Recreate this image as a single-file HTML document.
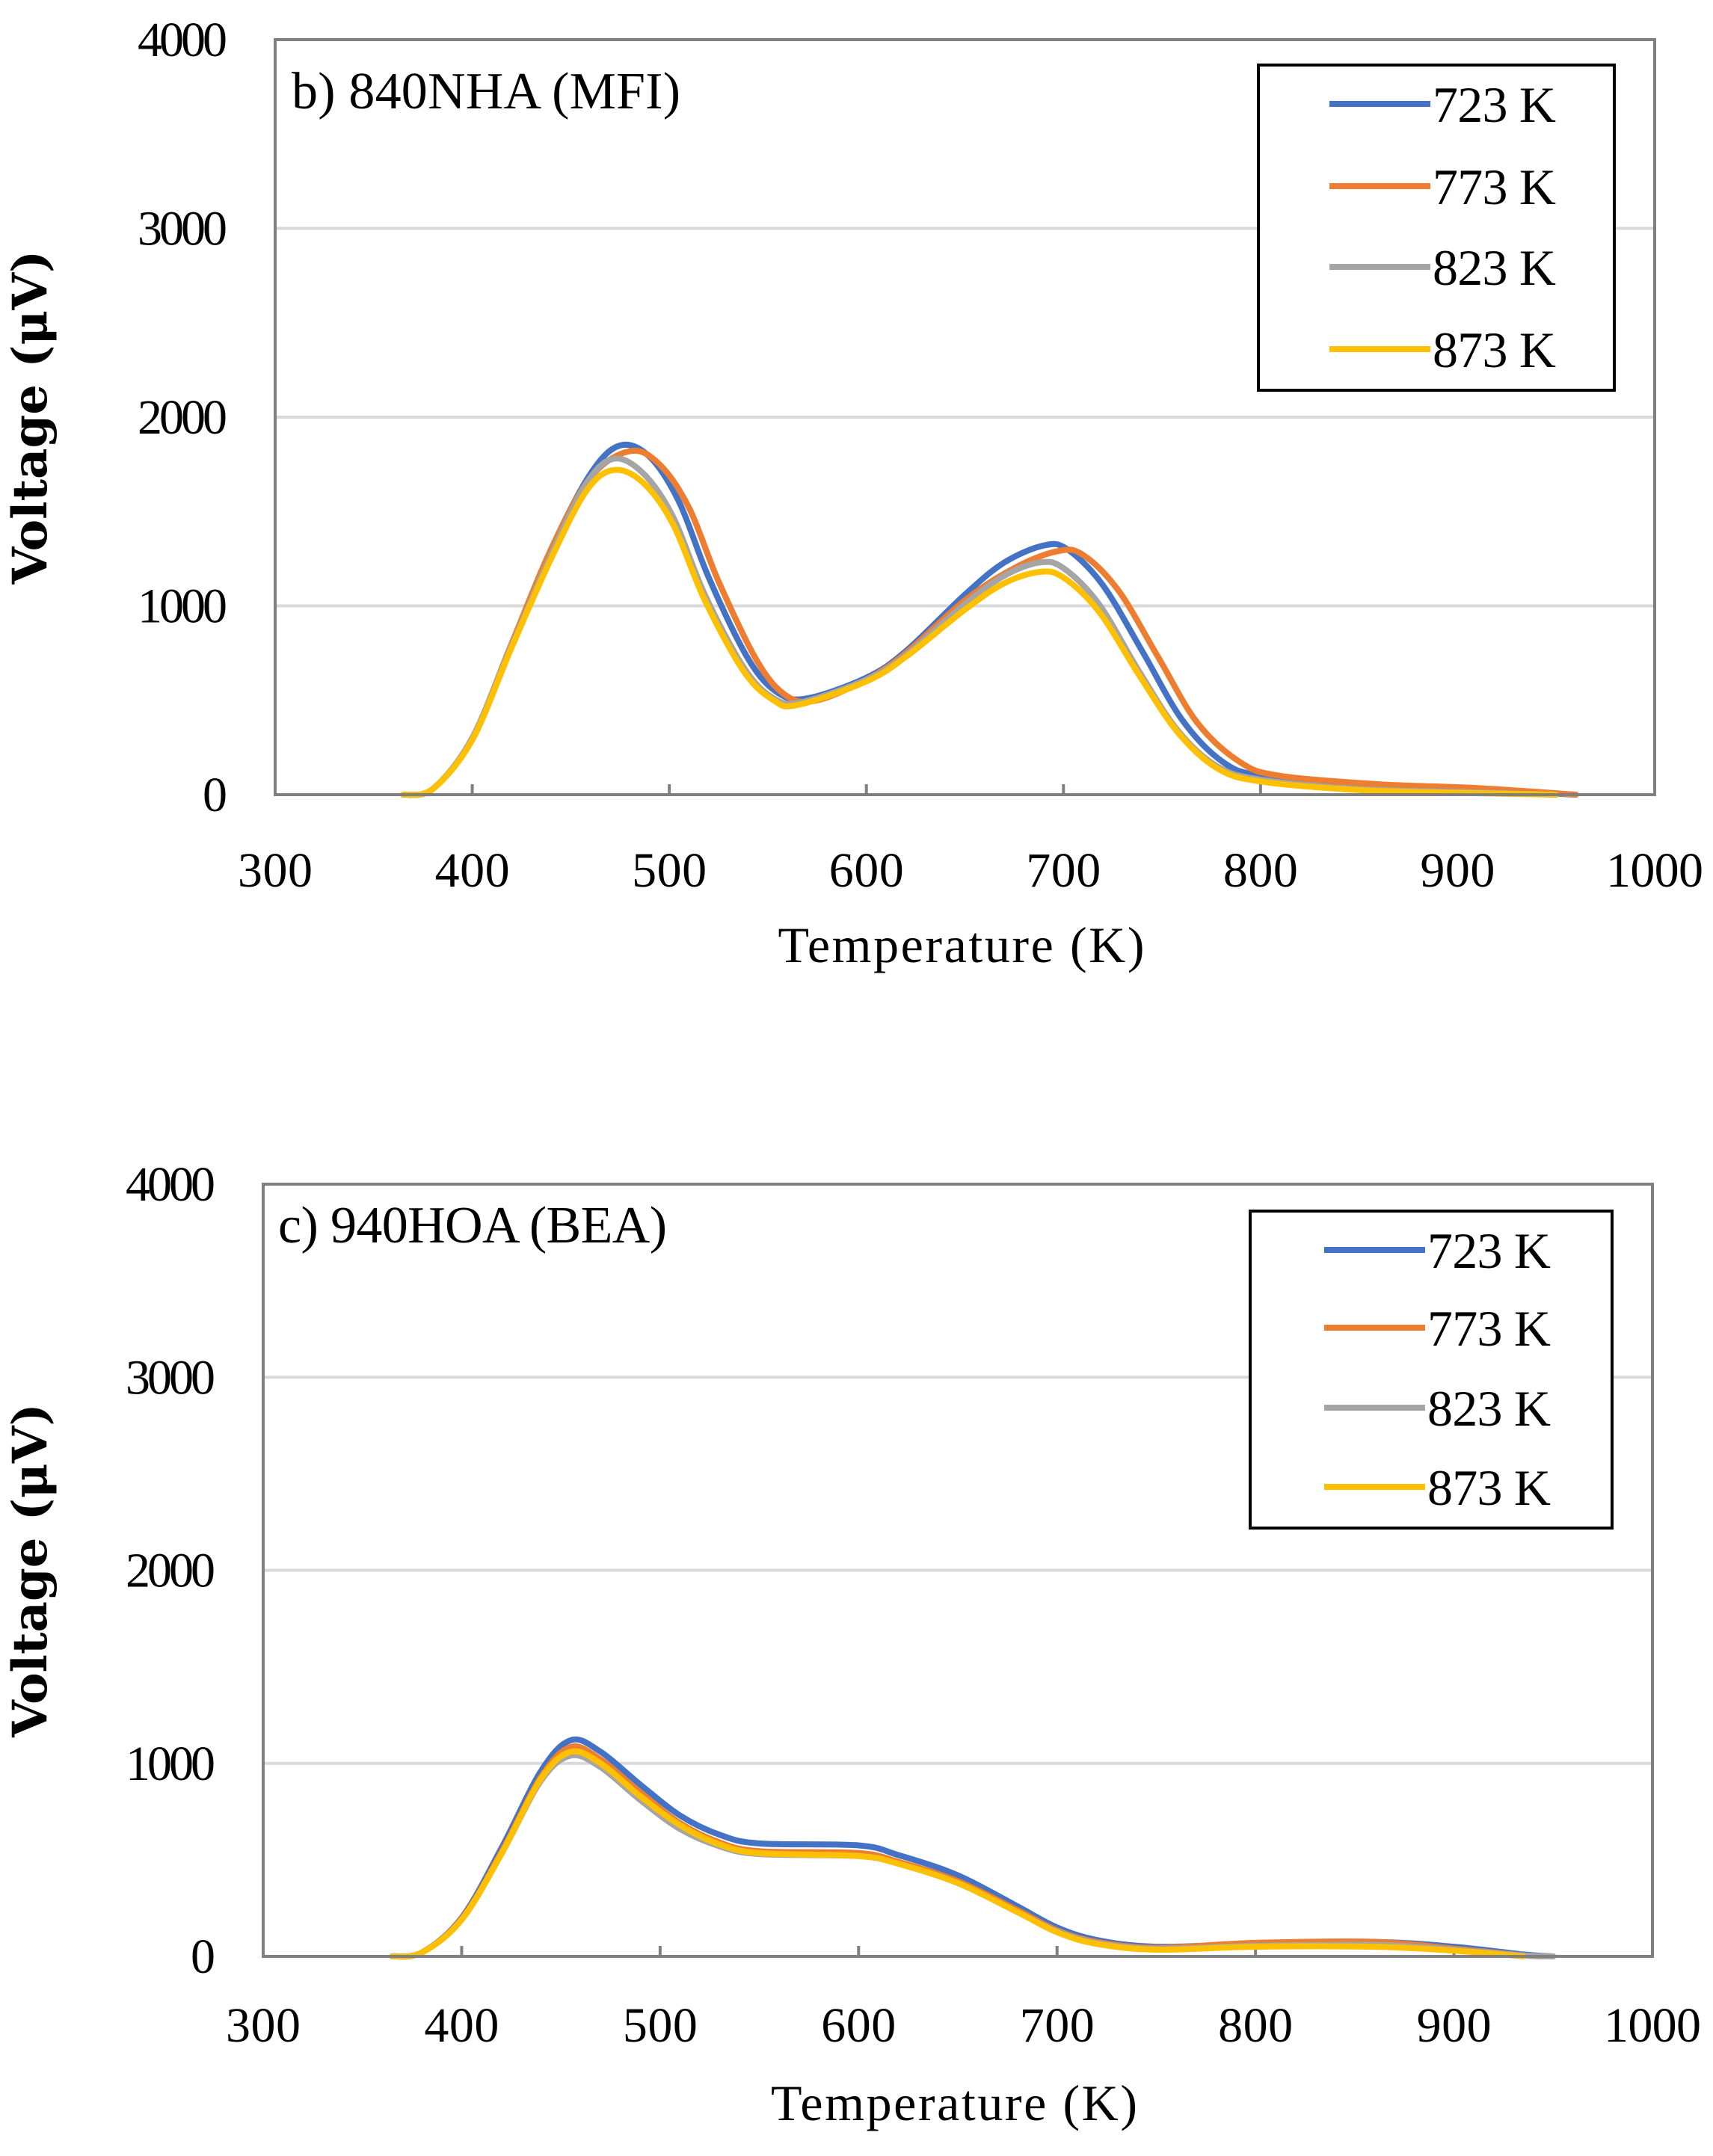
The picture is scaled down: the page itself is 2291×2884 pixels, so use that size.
<!DOCTYPE html>
<html><head><meta charset="utf-8"><style>
html,body{margin:0;padding:0;background:#fff;}
svg{display:block;}
text{font-family:"Liberation Serif",serif;fill:#000;}
</style></head><body>
<svg id="s" width="2291" height="2884" viewBox="0 0 2291 2884" xmlns="http://www.w3.org/2000/svg"></svg>
<script>
const NS="http://www.w3.org/2000/svg";
const svg=document.getElementById('s');
function el(t,a,txt){const e=document.createElementNS(NS,t);for(const k in a)e.setAttribute(k,a[k]);if(txt!==undefined)e.textContent=txt;svg.appendChild(e);return e;}
function spline(p){let d='M'+p[0][0].toFixed(1)+' '+p[0][1].toFixed(1);for(let i=0;i<p.length-1;i++){const p0=p[i-1]||p[i],p1=p[i],p2=p[i+1],p3=p[i+2]||p2;const c1=[p1[0]+(p2[0]-p0[0])/6,p1[1]+(p2[1]-p0[1])/6],c2=[p2[0]-(p3[0]-p1[0])/6,p2[1]-(p3[1]-p1[1])/6];d+=' C'+c1.map(v=>v.toFixed(1)).join(' ')+' '+c2.map(v=>v.toFixed(1)).join(' ')+' '+p2[0].toFixed(1)+' '+p2[1].toFixed(1);}return d;}
const cols=['#4472C4','#ED7D31','#A5A5A5','#FFC000'];
const labs=['723 K','773 K','823 K','873 K'];
function chart(c){
 const X=T=>c.L+(T-300)*(c.R-c.L)/700, Y=V=>c.B-V*(c.B-c.T)/4000;
 for(let v=1000;v<=3000;v+=1000) el('line',{x1:c.L,x2:c.R,y1:Y(v),y2:Y(v),stroke:'#d9d9d9','stroke-width':4});
 for(let t=400;t<1000;t+=100) el('line',{x1:X(t),x2:X(t),y1:c.B,y2:c.B-14,stroke:'#808080','stroke-width':4});
 c.series.forEach((s,i)=>{el('path',{d:spline(s.map(q=>[X(q[0]),Y(q[1])])),fill:'none',stroke:cols[i],'stroke-width':8,'stroke-linejoin':'round','stroke-linecap':'round'});});
 el('rect',{x:c.L,y:c.T,width:c.R-c.L,height:c.B-c.T,fill:'none',stroke:'#808080','stroke-width':4});
 for(let v=0;v<=4000;v+=1000) el('text',{x:c.L-64,y:Y(v)+22,'text-anchor':'end','font-size':66,textLength:v?120:32},String(v));
 for(let t=300;t<=1000;t+=100) el('text',{x:X(t),y:c.xl,'text-anchor':'middle','font-size':66,textLength:t<1000?100:130},String(t));
 el('text',{x:(c.L+c.R)/2-5,y:c.xt,'text-anchor':'middle','font-size':68,textLength:490},'Temperature (K)');
 el('text',{x:0,y:0,'font-size':64,'font-weight':'bold','text-anchor':'middle',transform:'translate(62,'+((c.T+c.B)/2)+') rotate(-90)',style:'font-family:"DejaVu Serif",serif'},'Voltage (μV)');
 el('text',{x:c.tx,y:c.ty,'font-size':70,textLength:c.tw},c.title);
 el('rect',{x:c.lg[0],y:c.lg[1],width:c.lg[2],height:c.lg[3],fill:'#fff',stroke:'#000','stroke-width':4});
 c.ly.forEach((y,i)=>{el('line',{x1:c.lx,x2:c.lx+135,y1:y,y2:y,stroke:cols[i],'stroke-width':8});el('text',{x:c.lx+138,y:y+24,'font-size':68,textLength:165},labs[i]);});
}
const bBlue=[[365,0],[380,30],[400,300],[420,800],[440,1300],[460,1700],[475,1850],[490,1790],[505,1550],[520,1150],[540,720],[555,540],[570,510],[600,620],[620,760],[650,1060],[670,1230],[690,1320],[702,1300],[720,1110],[740,760],[760,400],[780,180],[800,100],[850,50],[900,30],[960,0]];
const bOr=[[365,0],[380,30],[400,300],[420,800],[440,1300],[460,1680],[480,1820],[495,1750],[510,1520],[525,1130],[545,700],[560,520],[575,500],[600,610],[620,750],[650,1030],[675,1200],[697,1290],[710,1270],[728,1080],[748,730],[768,380],[790,170],[810,100],[860,55],[910,35],[960,0]];
const bGr=[[365,0],[380,30],[400,300],[420,790],[440,1270],[458,1650],[472,1780],[487,1700],[502,1470],[518,1060],[538,670],[553,510],[567,490],[600,610],[620,740],[650,1010],[670,1160],[688,1230],[700,1200],[718,1010],[738,660],[758,340],[778,150],[800,80],[850,30],[900,15],[950,0]];
const bYe=[[365,0],[380,30],[400,290],[420,780],[440,1250],[458,1610],[472,1720],[487,1650],[502,1430],[518,1030],[538,650],[553,500],[565,475],[600,600],[620,730],[650,980],[670,1120],[688,1180],[700,1150],[718,970],[738,640],[758,330],[778,140],[800,70],[850,25],[900,10],[950,0]];
chart({L:368,R:2213,T:53,B:1063,xl:1186,xt:1287,tx:390,ty:145,tw:520,title:'b) 840NHA (MFI)',lg:[1683,87,476,435],lx:1778,ly:[139,249,357,467],series:[bBlue,bOr,bGr,bYe]});
const cBlue=[[365,0],[380,20],[400,200],[420,560],[440,960],[455,1120],[470,1060],[490,890],[510,730],[530,630],[550,585],[600,575],[620,525],[650,420],[680,260],[700,150],[720,85],[750,50],[800,65],[860,75],[900,50],[935,10],[950,0]];
const cOr=[[365,0],[380,20],[400,195],[420,540],[440,930],[455,1085],[470,1020],[490,850],[510,690],[530,590],[550,545],[600,535],[620,490],[650,390],[680,240],[700,135],[720,75],[750,45],[800,70],[860,75],[900,40],[935,5],[945,0]];
const cGr=[[365,0],[380,20],[400,190],[420,530],[440,910],[455,1040],[470,980],[490,810],[510,660],[530,570],[550,530],[600,520],[620,480],[650,380],[680,230],[700,130],[720,70],[750,40],[800,55],[860,60],[900,35],[935,5],[950,0]];
const cYe=[[365,0],[380,20],[400,190],[420,530],[440,920],[455,1060],[470,1000],[490,830],[510,680],[530,580],[550,535],[600,520],[620,480],[650,380],[680,230],[700,125],[720,65],[750,35],[800,50],[860,50],[900,30],[935,0]];
chart({L:352,R:2210,T:1584,B:2617,xl:2731,xt:2836,tx:372,ty:1662,tw:520,title:'c) 940HOA (BEA)',lg:[1672,1620,484,424],lx:1771,ly:[1672,1776,1883,1989],series:[cBlue,cOr,cGr,cYe]});
</script>
</body></html>
